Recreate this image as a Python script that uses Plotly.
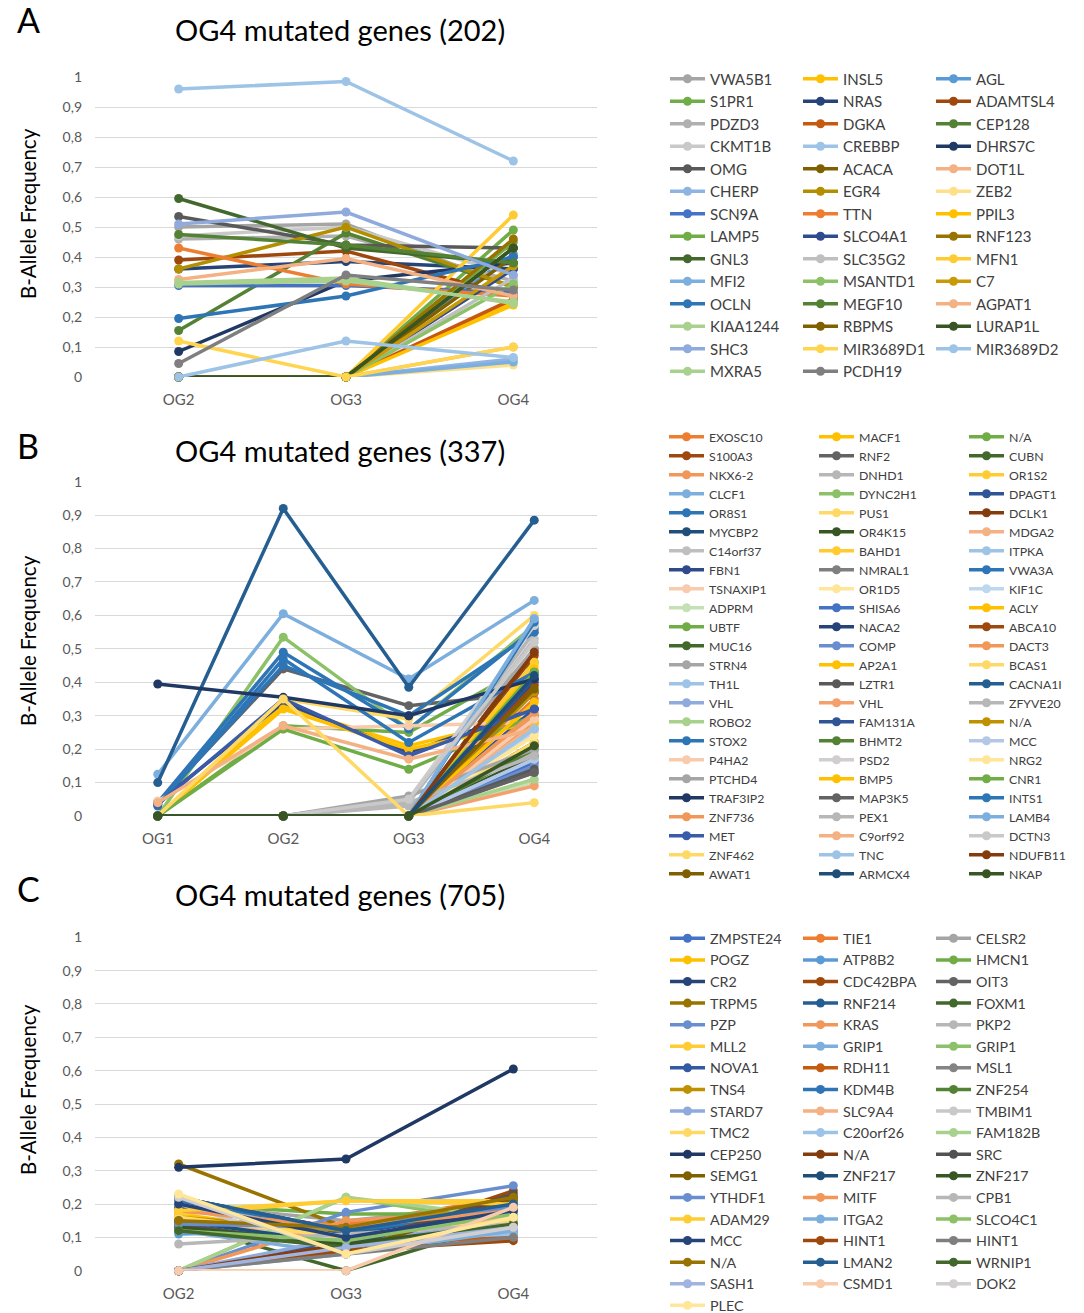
import plotly.graph_objects as go

FONT = "Lato"

# ---------------- Panel A ----------------
A_cats = ["OG2", "OG3", "OG4"]
A_genes = ["VWA5B1","INSL5","AGL","S1PR1","NRAS","ADAMTSL4","PDZD3","DGKA","CEP128","CKMT1B",
           "CREBBP","DHRS7C","OMG","ACACA","DOT1L","CHERP","EGR4","ZEB2","SCN9A","TTN",
           "PPIL3","LAMP5","SLCO4A1","RNF123","GNL3","SLC35G2","MFN1","MFI2","MSANTD1","C7",
           "OCLN","MEGF10","AGPAT1","KIAA1244","RBPMS","LURAP1L","SHC3","MIR3689D1","MIR3689D2","MXRA5",
           "PCDH19"]
A_colors = ["#A5A5A5","#FFC000","#5B9BD5","#70AD47","#264478","#9E480E","#B0B0B0","#C65911","#548235","#C9C9C9",
            "#9DC3E6","#1F3864","#595959","#7F6000","#F4B183","#8EB4E3","#B38F00","#FFE08A","#4472C4","#ED7D31",
            "#FFC000","#70AD47","#2F4B8F","#997300","#43682B","#BFBFBF","#FFCB33","#7CAFDD","#8CC168","#C99A06",
            "#2E75B6","#548235","#F4B183","#A9D18E","#7F6000","#375623","#8FAADC","#FFD54F","#9DC3E6","#A9D18E",
            "#7F7F7F"]
A_og2 = [0.50,0,0,0,0.36,0.39,0.46,0,0.155,0.47,
         0.96,0.085,0.535,0,0,0,0.36,0,0.305,0.43,
         0,0,0,0,0.595,0,0,0,0,0,
         0.195,0.475,0.325,0.315,0,0,0.51,0.12,0,0.31,
         0.045]
A_og3 = [0.51,0,0,0,0.385,0.42,0.47,0,0.48,0.50,
         0.985,0.32,0.44,0,0,0,0.50,0,0.305,0.31,
         0,0,0,0,0.43,0,0,0,0,0,
         0.27,0.44,0.395,0.33,0,0,0.55,0,0.12,0.32,
         0.34]
A_og4 = [0.30,0.25,0.41,0.49,0.36,0.27,0.32,0.26,0.30,0.34,
         0.72,0.38,0.43,0.40,0.10,0.06,0.30,0.04,0.28,0.27,
         0.24,0.45,0.36,0.46,0.38,0.33,0.54,0.05,0.31,0.37,
         0.40,0.38,0.27,0.245,0.43,0.43,0.34,0.10,0.065,0.25,
         0.29]

# ---------------- Panel B ----------------
B_cats = ["OG1", "OG2", "OG3", "OG4"]
B_genes = ["EXOSC10","MACF1","N/A","S100A3","RNF2","CUBN","NKX6-2","DNHD1","OR1S2","CLCF1",
           "DYNC2H1","DPAGT1","OR8S1","PUS1","DCLK1","MYCBP2","OR4K15","MDGA2","C14orf37","BAHD1",
           "ITPKA","FBN1","NMRAL1","VWA3A","TSNAXIP1","OR1D5","KIF1C","ADPRM","SHISA6","ACLY",
           "UBTF","NACA2","ABCA10","MUC16","COMP","DACT3","STRN4","AP2A1","BCAS1","TH1L",
           "LZTR1","CACNA1I","VHL","VHL","ZFYVE20","ROBO2","FAM131A","N/A","STOX2","BHMT2",
           "MCC","P4HA2","PSD2","NRG2","PTCHD4","BMP5","CNR1","TRAF3IP2","MAP3K5","INTS1",
           "ZNF736","PEX1","LAMB4","MET","C9orf92","DCTN3","ZNF462","TNC","NDUFB11","AWAT1",
           "ARMCX4","NKAP"]
B_colors = ["#ED7D31","#FFC000","#70AD47","#9E480E","#636363","#43682B","#F1975A","#B7B7B7","#FFCD33","#7CAFDD",
            "#8CC168","#2F5597","#2E75B6","#FFD966","#843C0C","#1F4E79","#375623","#F4B183","#BFBFBF","#FFCB2F",
            "#9DC3E6","#2F4A8A","#7F7F7F","#2E75B6","#F8CBAD","#FFE699","#BDD7EE","#C5E0B4","#4472C4","#FFC000",
            "#70AD47","#264478","#9E480E","#43682B","#698ED0","#F1975A","#A5A5A5","#FFC000","#FFD966","#9DC3E6",
            "#595959","#255E91","#8FAADC","#F4A06C","#B7B7B7","#A9D18E","#2F5597","#BF9000","#2E75B6","#548235",
            "#B4C7E7","#F8CBAD","#D0CECE","#FFE699","#A5A5A5","#FFC000","#70AD47","#203864","#636363","#2E75B6",
            "#F1975A","#B7B7B7","#7CAFDD","#3A5BA8","#F4B183","#C9C9C9","#FFD966","#9DC3E6","#843C0C","#7F6000",
            "#1F4E79","#375623"]
B_og1 = [0,0,0,0,0.04,0,0,0,0,0.125,
         0,0,0.04,0,0,0,0,0,0,0,
         0,0.04,0,0.035,0.045,0,0,0,0,0,
         0,0,0,0,0,0,0,0,0,0,
         0,0.10,0,0,0,0,0,0,0.03,0,
         0,0,0,0,0,0,0,0.395,0,0,
         0,0,0,0.035,0.04,0,0,0,0,0,
         0,0]
B_og2 = [0,0.33,0.27,0,0.44,0,0,0,0,0.605,
         0.535,0,0.49,0.35,0,0,0,0,0,0,
         0,0.34,0,0.45,0.26,0,0,0,0,0.32,
         0.26,0,0,0,0,0,0,0,0,0,
         0,0.92,0,0,0,0,0,0,0.47,0,
         0,0,0,0,0,0,0,0.355,0,0,
         0,0,0,0.35,0.27,0,0.35,0,0,0,
         0,0]
B_og3 = [0,0.21,0.25,0,0.33,0,0,0.05,0,0.41,
         0.26,0,0.26,0.29,0,0,0,0,0.04,0,
         0,0.19,0,0.30,0.27,0,0,0,0,0.20,
         0.14,0,0,0,0,0,0.05,0,0,0,
         0,0.385,0,0,0.03,0,0,0,0.22,0,
         0,0,0.05,0,0.06,0,0,0.30,0,0,
         0,0.04,0,0.18,0.17,0.05,0,0,0,0,
         0,0]
B_og4 = [0.35,0.30,0.46,0.48,0.37,0.22,0.28,0.55,0.45,0.645,
         0.57,0.32,0.56,0.60,0.50,0.40,0.18,0.27,0.53,0.46,
         0.59,0.32,0.13,0.55,0.28,0.42,0.25,0.10,0.16,0.28,
         0.30,0.37,0.39,0.21,0.15,0.30,0.50,0.44,0.22,0.26,
         0.14,0.885,0.17,0.09,0.19,0.11,0.41,0.37,0.43,0.20,
         0.17,0.29,0.57,0.24,0.20,0.34,0.43,0.41,0.13,0.58,
         0.31,0.18,0.59,0.32,0.26,0.52,0.04,0.26,0.49,0.38,
         0.42,0.21]

# ---------------- Panel C ----------------
C_cats = ["OG2", "OG3", "OG4"]
C_genes = ["ZMPSTE24","TIE1","CELSR2","POGZ","ATP8B2","HMCN1","CR2","CDC42BPA","OIT3","TRPM5",
           "RNF214","FOXM1","PZP","KRAS","PKP2","MLL2","GRIP1","GRIP1","NOVA1","RDH11",
           "MSL1","TNS4","KDM4B","ZNF254","STARD7","SLC9A4","TMBIM1","TMC2","C20orf26","FAM182B",
           "CEP250","N/A","SRC","SEMG1","ZNF217","ZNF217","YTHDF1","MITF","CPB1","ADAM29",
           "ITGA2","SLCO4C1","MCC","HINT1","HINT1","N/A","LMAN2","WRNIP1","SASH1","CSMD1",
           "DOK2","PLEC"]
C_colors = ["#4472C4","#ED7D31","#A5A5A5","#FFC000","#5B9BD5","#70AD47","#264478","#9E480E","#636363","#997300",
            "#255E91","#43682B","#698ED0","#F1975A","#B7B7B7","#FFCD33","#7CAFDD","#8CC168","#335AA1","#C55A11",
            "#848484","#BF9000","#2E75B6","#548235","#8FAADC","#F4B183","#C9C9C9","#FFD966","#9DC3E6","#A9D18E",
            "#203864","#843C0C","#525252","#7F6000","#1F4E79","#375623","#698ED0","#F1975A","#B7B7B7","#FFCD33",
            "#7CAFDD","#8CC168","#264478","#9E480E","#7F7F7F","#997300","#255E91","#43682B","#A0B4E0","#F8CBAD",
            "#D0CECE","#FFE699"]
C_og2 = [0.22,0.15,0.20,0.17,0.11,0.20,0.22,0,0,0.32,
         0.19,0.14,0,0,0.21,0.17,0.12,0,0,0,
         0,0.16,0.21,0.12,0,0.15,0.20,0.16,0.12,0,
         0.31,0,0.14,0,0.15,0.13,0.14,0.18,0.08,0.18,
         0,0.12,0.20,0,0,0.15,0.22,0.12,0,0,
         0.22,0.23]
C_og3 = [0.12,0.14,0.15,0.10,0.12,0.17,0.12,0.07,0.06,0.13,
         0.11,0,0.175,0.15,0.10,0.21,0.05,0.22,0.09,0.08,
         0.07,0.12,0.12,0.08,0.10,0.10,0.05,0.10,0.09,0.22,
         0.335,0.08,0.07,0.06,0.08,0.08,0.13,0.13,0.11,0.21,
         0.05,0.09,0.10,0.06,0.05,0.13,0.12,0.07,0.07,0,
         0.05,0.05]
C_og4 = [0.20,0.22,0.20,0.16,0.19,0.17,0.19,0.24,0.11,0.20,
         0.19,0.15,0.255,0.18,0.17,0.21,0.12,0.14,0.20,0.10,
         0.12,0.21,0.18,0.15,0.13,0.16,0.13,0.15,0.11,0.16,
         0.605,0.22,0.23,0.21,0.20,0.14,0.19,0.18,0.14,0.20,
         0.12,0.17,0.18,0.09,0.10,0.22,0.20,0.14,0.13,0.19,
         0.13,0.16]

W, H = 1084, 1313

panels = [
    dict(cats=A_cats, genes=A_genes, colors=A_colors, vals=[A_og2, A_og3, A_og4],
         top=77, bottom=377, legend_ids=["legend", "legend2", "legend3"],
         leg_x=[665, 798, 931], leg_top=62.5, leg_font=15,
         letter="A", letter_y=20, title="OG4 mutated genes (202)", title_y=29, ytitle_y=214),
    dict(cats=B_cats, genes=B_genes, colors=B_colors, vals=[B_og1, B_og2, B_og3, B_og4],
         top=481.7, bottom=816, legend_ids=["legend4", "legend5", "legend6"],
         leg_x=[664, 814, 964], leg_top=422.2, leg_font=12.3,
         letter="B", letter_y=446, title="OG4 mutated genes (337)", title_y=450, ytitle_y=641),
    dict(cats=C_cats, genes=C_genes, colors=C_colors, vals=[C_og2, C_og3, C_og4],
         top=937.3, bottom=1270.7, legend_ids=["legend7", "legend8", "legend9"],
         leg_x=[665, 798, 931], leg_top=922.5, leg_font=14.3,
         letter="C", letter_y=888, title="OG4 mutated genes (705)", title_y=894, ytitle_y=1090),
]

fig = go.Figure()
layout = dict(width=W, height=H, autosize=False,
              margin=dict(l=0, r=0, t=0, b=0, autoexpand=False),
              paper_bgcolor="white", plot_bgcolor="white", separators=", ",
              font=dict(family=FONT, color="#595959"), annotations=[])

x0, x1 = 95 / W, 597 / W
for pi, p in enumerate(panels):
    sfx = "" if pi == 0 else str(pi + 1)
    xname, yname = "x" + sfx, "y" + sfx
    for gi, g in enumerate(p["genes"]):
        yv = [series[gi] for series in p["vals"]]
        fig.add_trace(go.Scatter(
            x=p["cats"], y=yv, name=g, mode="lines+markers",
            line=dict(color=p["colors"][gi], width=3.5),
            marker=dict(color=p["colors"][gi], size=9),
            xaxis=xname, yaxis=yname, cliponaxis=False,
            legend=p["legend_ids"][gi % 3], hoverinfo="name+y"))
    layout["xaxis" + sfx] = dict(domain=[x0, x1], anchor=yname, type="category",
                                 categoryorder="array", categoryarray=p["cats"],
                                 range=[-0.5, len(p["cats"]) - 0.5], showgrid=False,
                                 zeroline=False, showline=False, ticks="",
                                 tickfont=dict(size=15, color="#595959", family=FONT),
                                 ticklabelstandoff=12)
    layout["yaxis" + sfx] = dict(domain=[1 - p["bottom"] / H, 1 - p["top"] / H], anchor=xname,
                                 range=[0, 1], dtick=0.1, tick0=0, showgrid=True,
                                 gridcolor="#D9D9D9", gridwidth=1, zeroline=False, showline=False,
                                 ticks="", tickfont=dict(size=14, color="#595959", family=FONT),
                                 ticklabelstandoff=12)
    for li, lid in enumerate(p["legend_ids"]):
        layout[lid] = dict(x=p["leg_x"][li] / W, y=1 - p["leg_top"] / H, xanchor="left", yanchor="top",
                           orientation="v", bgcolor="rgba(0,0,0,0)", borderwidth=0,
                           itemwidth=35, tracegroupgap=0, traceorder="normal",
                           font=dict(size=p["leg_font"], color="#404040", family=FONT),
                           itemclick=False, itemdoubleclick=False)
    layout["annotations"] += [
        dict(text=p["letter"], x=28 / W, y=1 - p["letter_y"] / H, xref="paper", yref="paper",
             xanchor="center", yanchor="middle",
             showarrow=False, font=dict(size=34, color="#000000", family=FONT)),
        dict(text=p["title"], x=340 / W, y=1 - p["title_y"] / H, xref="paper", yref="paper",
             xanchor="center", yanchor="middle",
             showarrow=False, font=dict(size=29, color="#000000", family=FONT)),
        dict(text="B-Allele Frequency", x=28 / W, y=1 - p["ytitle_y"] / H, xref="paper", yref="paper",
             xanchor="center", yanchor="middle",
             showarrow=False, textangle=-90, font=dict(size=20.5, color="#000000", family=FONT)),
    ]

fig.update_layout(**layout)
fig.write_html("out.html")
